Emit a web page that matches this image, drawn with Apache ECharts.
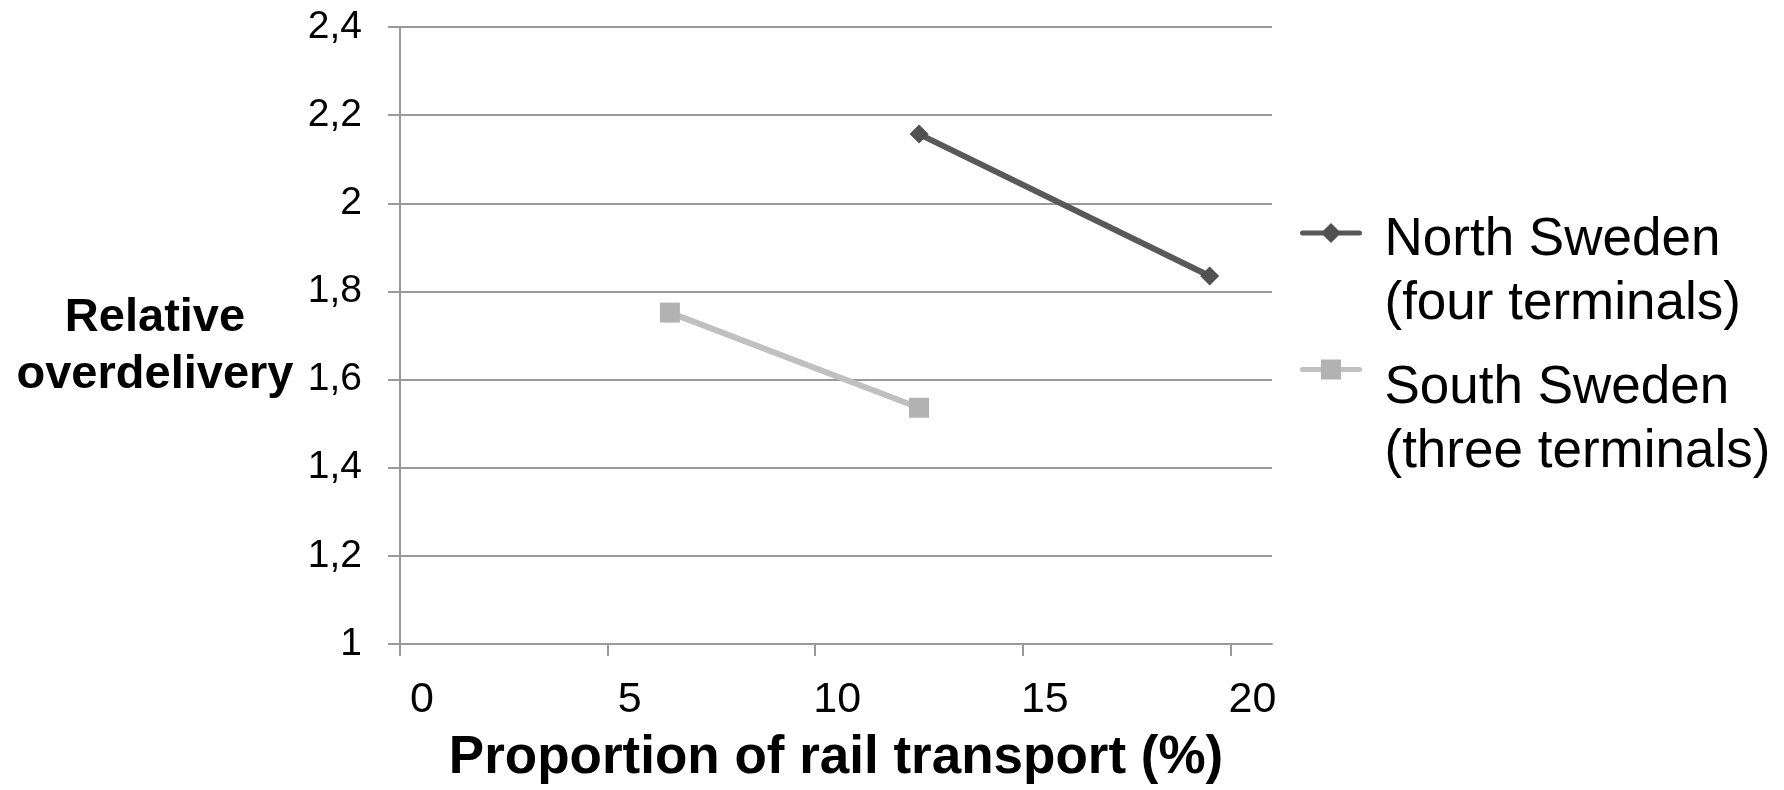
<!DOCTYPE html>
<html>
<head>
<meta charset="utf-8">
<title>Relative overdelivery vs proportion of rail transport</title>
<script src="https://cdn.jsdelivr.net/npm/echarts@6/dist/echarts.min.js"></script>
<style>
  html, body { margin: 0; padding: 0; background: #ffffff; }
  #chart { width: 1784px; height: 790px; }
</style>
</head>
<body>
<div id="chart"></div>
<script>
// Series names shown in the legend
const seriesNames = ['North Sweden\n(four terminals)', 'South Sweden\n(three terminals)'];

// Proportion of rail transport (%) for each point
const northX = [12.5, 19.5];
const southX = [6.5, 12.5];

// Relative overdelivery for each point
const northY = [2.157, 1.835];
const southY = [1.752, 1.536];

// Axis tick values
const xTicks = [0, 5, 10, 15, 20];
const yTicks = [1, 1.2, 1.4, 1.6, 1.8, 2, 2.2, 2.4];

const FONT = '"Liberation Sans", Arial, sans-serif';
const AXIS_COLOR = '#999999';

const pairs = (xs, ys) => xs.map((x, i) => [x, ys[i]]);
const decimalComma = v => String(v).replace('.', ',');

// Legend text: a spacer line on top so the first text line sits beside the icon
const legendSpacer = ['padN', 'padS'];
const legendLabel = name => {
  const idx = seriesNames.indexOf(name);
  const lines = name.split('\n').map(s => '{t|' + s + '}').join('\n');
  return '{' + legendSpacer[idx] + '| }\n' + lines;
};

const chart = echarts.init(document.getElementById('chart'), null, { renderer: 'canvas' });

chart.setOption({
  backgroundColor: '#ffffff',
  animation: false,
  textStyle: { fontFamily: FONT },
  grid: { left: 400, top: 27, right: 512, bottom: 140, containLabel: false },
  legend: {
    orient: 'vertical',
    left: 1300,
    top: 164,
    padding: 0,
    itemWidth: 57,
    itemHeight: 25,
    itemGap: -30,
    data: seriesNames,
    lineStyle: { width: 5, cap: 'round' },
    formatter: legendLabel,
    textStyle: {
      fontFamily: FONT,
      color: '#000000',
      rich: {
        padN: { fontSize: 10, lineHeight: 78 },
        padS: { fontSize: 10, lineHeight: 102 },
        t: { fontFamily: FONT, fontSize: 53, lineHeight: 64, color: '#000000', padding: [0, 0, 0, 20] }
      }
    }
  },
  xAxis: {
    type: 'value',
    min: 0,
    max: 21,
    interval: 5,
    name: 'Proportion of rail transport (%)',
    nameLocation: 'middle',
    nameGap: 88,
    nameTextStyle: { fontFamily: FONT, fontSize: 53, fontWeight: 'bold', color: '#000000' },
    axisLine: { show: true, lineStyle: { color: AXIS_COLOR, width: 2 } },
    axisTick: { show: true, inside: false, length: 12, customValues: xTicks, lineStyle: { color: AXIS_COLOR, width: 2 } },
    axisLabel: {
      customValues: xTicks,
      fontFamily: FONT,
      fontSize: 43,
      color: '#000000',
      margin: 35,
      padding: [0, 0, 0, 44]
    },
    splitLine: { show: false }
  },
  yAxis: {
    type: 'value',
    min: 1,
    max: 2.4,
    interval: 0.2,
    name: '{pad| }\n{t|Relative}\n{t|overdelivery}',
    nameLocation: 'middle',
    nameRotate: 0,
    nameGap: 245,
    nameTextStyle: {
      fontFamily: FONT,
      color: '#000000',
      align: 'center',
      verticalAlign: 'middle',
      rich: {
        pad: { fontSize: 10, lineHeight: 22 },
        t: { fontFamily: FONT, fontSize: 47, fontWeight: 'bold', lineHeight: 57, color: '#000000', align: 'center' }
      }
    },
    axisLine: { show: true, lineStyle: { color: AXIS_COLOR, width: 2 } },
    axisTick: { show: true, inside: false, length: 12, lineStyle: { color: AXIS_COLOR, width: 2 } },
    axisLabel: {
      fontFamily: FONT,
      fontSize: 39,
      color: '#000000',
      margin: 38,
      formatter: v => decimalComma(Math.round(v * 10) / 10)
    },
    splitLine: { show: true, lineStyle: { color: AXIS_COLOR, width: 2 } }
  },
  series: [
    {
      name: seriesNames[0],
      type: 'line',
      data: pairs(northX, northY),
      symbol: 'diamond',
      symbolSize: 19,
      showAllSymbol: true,
      lineStyle: { color: '#595959', width: 6 },
      itemStyle: { color: '#515151' },
      emphasis: { disabled: true }
    },
    {
      name: seriesNames[1],
      type: 'line',
      data: pairs(southX, southY),
      symbol: 'rect',
      symbolSize: 20,
      showAllSymbol: true,
      lineStyle: { color: '#c0c0c0', width: 6 },
      itemStyle: { color: '#b2b2b2' },
      emphasis: { disabled: true }
    }
  ]
});
</script>
</body>
</html>
